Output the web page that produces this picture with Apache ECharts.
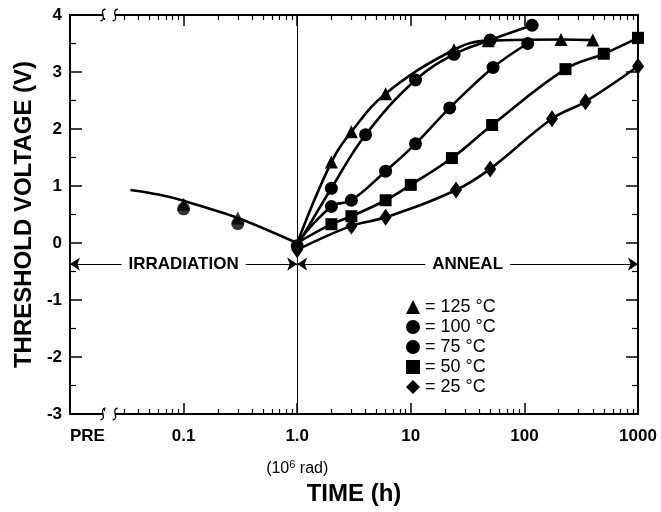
<!DOCTYPE html>
<html><head><meta charset="utf-8">
<script src="https://cdn.jsdelivr.net/npm/echarts@6/dist/echarts.min.js"></script>
<style>html,body{margin:0;padding:0;background:#fff}#c{width:661px;height:512px}</style>
</head><body><div id="c"></div>
<script>
// ---- data ----
const xTickLabels = {'0.01':'PRE','0.1':'0.1','1':'1.0','10':'10','100':'100','1000':'1000'};
const legendNames = ['= 125 °C','= 100 °C','= 75 °C','= 50 °C','= 25 °C'];
const legendIcons = ['triangle','circle','circle','rect','diamond'];

const t125 = [1, 2, 3, 6, 24, 48, 210, 400];
const v125 = [0.0, 1.42, 1.95, 2.62, 3.39, 3.55, 3.57, 3.56];
const t100 = [1, 2, 4, 11, 24, 50, 117];
const v100 = [-0.05, 0.96, 1.9, 2.86, 3.31, 3.56, 3.82];
const t75 = [1, 2, 3, 6, 11, 22, 53, 107];
const v75 = [0.0, 0.64, 0.75, 1.26, 1.74, 2.37, 3.08, 3.5];
const t50 = [1, 2, 3, 6, 10, 23, 52, 230, 500, 1000];
const v50 = [0.0, 0.33, 0.47, 0.75, 1.02, 1.49, 2.07, 3.05, 3.32, 3.6];
const t25 = [1, 3, 6, 25, 50, 175, 345, 1000];
const v25 = [-0.12, 0.3, 0.45, 0.93, 1.3, 2.18, 2.48, 3.1];

// irradiation phase
const tIrrTri = [0.1, 0.3];
const vIrrTri = [0.68, 0.44];
const tIrrCirc = [0.1, 0.3];
const vIrrCirc = [0.6, 0.34];
const tIrrFit = [0.034, 0.06, 0.1, 0.3, 1];
const vIrrFit = [0.93, 0.85, 0.74, 0.44, 0.0];

const arrowY = -0.37;
const breakAt = [0.0195, 0.025];

const FONT = 'Liberation Sans, Arial, Helvetica, sans-serif';
const chart = echarts.init(document.getElementById('c'), null, {renderer:'canvas'});

function pairs(ts, vs){ return ts.map((t,i)=>[t, vs[i]]); }
function mk(name, ts, vs, symbol, size, showFirst){
  return {
    name, type:'line', smooth:0.4, symbol, symbolSize:size, showAllSymbol:true,
    lineStyle:{color:'#000', width:2.6}, itemStyle:{color:'#000'},
    emphasis:{disabled:true}, z:3,
    data: ts.map((t,i)=> (i===0 && !showFirst) ? {value:[t, vs[i]], symbol:'none'} : [t, vs[i]])
  };
}
const syms = [[t125,v125,13,false],[t100,v100,13,true],[t75,v75,13,false],[t50,v50,12,false],[t25,v25,[12,17],true]];
const series = syms.map((s,i)=> mk(legendNames[i], s[0], s[1], legendIcons[i], s[2], s[3]));

series[0].markLine = {
  silent:true, symbol:'none', label:{show:false},
  lineStyle:{color:'#000', width:1, type:'solid'},
  data:[{xAxis:1}]
};

series.push({
  name:'irrFit', type:'line', smooth:0.3, symbol:'none',
  lineStyle:{color:'#000', width:2.6}, z:2,
  data: pairs(tIrrFit, vIrrFit),
  markLine:{
    silent:true, symbol:['arrow','arrow'], symbolSize:10,
    lineStyle:{color:'#000', width:1.2, type:'solid'},
    label:{show:true, position:'insideMiddle', formatter:p=>p.name, color:'#000',
      fontFamily:FONT, fontWeight:'bold', fontSize:17, backgroundColor:'#fff', padding:[2,7]},
    data:[
      [{name:'IRRADIATION', coord:[0.01, arrowY]}, {coord:[1, arrowY]}],
      [{name:'ANNEAL', coord:[1, arrowY]}, {coord:[1000, arrowY]}]
    ]
  }
});
series.push({name:'irrTri', type:'scatter', symbol:'triangle', symbolSize:13, itemStyle:{color:'#000'}, z:4, data:pairs(tIrrTri, vIrrTri)});
series.push({name:'irrCirc', type:'scatter', symbol:'circle', symbolSize:13, itemStyle:{color:'#000'}, z:4, data:pairs(tIrrCirc, vIrrCirc)});

const axLine = {show:true, onZero:false, lineStyle:{color:'#000', width:2}};
const option = {
  backgroundColor:'#fff',
  animation:false,
  grid:{left:70, right:23, top:15, bottom:98, outerBoundsMode:'none', containLabel:false},
  legend:{
    orient:'vertical', left:401, top:292, itemWidth:14, itemHeight:14, itemGap:0,
    textStyle:{color:'#000', fontSize:18, lineHeight:20, fontFamily:FONT},
    selectedMode:false,
    data: legendNames.map((n,i)=>({name:n, icon:legendIcons[i]}))
  },
  xAxis:[{
    type:'log', logBase:10, min:0.01, max:1000, position:'bottom',
    name:'TIME (h)', nameLocation:'middle', nameGap:66,
    nameTextStyle:{color:'#000', fontSize:24, fontWeight:'bold', fontFamily:FONT},
    axisLine:axLine,
    axisTick:{show:true, inside:true, length:11, lineStyle:{color:'#000', width:1.5}},
    minorTick:{show:true, splitNumber:9, length:5, lineStyle:{color:'#000', width:1.2}},
    splitLine:{show:false}, minorSplitLine:{show:false},
    axisLabel:{
      color:'#000', fontSize:17, fontWeight:'bold', fontFamily:FONT, margin:14,
      alignMinLabel:'left',
      formatter:v=>{
        const k = String(+v.toPrecision(3));
        if (k==='1') return '1.0\n{s|(10}{sup|6}{s| rad)}';
        return xTickLabels[k] !== undefined ? xTickLabels[k] : '';
      },
      rich:{
        s:{fontSize:16, fontWeight:'normal', color:'#000', fontFamily:FONT, lineHeight:32, verticalAlign:'bottom'},
        sup:{fontSize:11, fontWeight:'normal', color:'#000', fontFamily:FONT, lineHeight:32, verticalAlign:'bottom', padding:[0,0,7,0]}
      }
    }
  },{
    type:'log', logBase:10, min:0.01, max:1000, position:'top',
    axisLine:axLine,
    axisTick:{show:true, inside:true, length:11, lineStyle:{color:'#000', width:1.5}},
    minorTick:{show:true, splitNumber:9, length:5, lineStyle:{color:'#000', width:1.2}},
    axisLabel:{show:false}, splitLine:{show:false}
  }],
  yAxis:[{
    type:'value', min:-3, max:4, interval:1, position:'left',
    name:'THRESHOLD VOLTAGE (V)', nameLocation:'middle', nameGap:31, nameRotate:90,
    nameTextStyle:{color:'#000', fontSize:24, fontWeight:'bold', fontFamily:FONT},
    axisLine:axLine,
    axisTick:{show:true, inside:true, length:12, lineStyle:{color:'#000', width:1.5}},
    minorTick:{show:true, splitNumber:2, length:6, lineStyle:{color:'#000', width:1.2}},
    splitLine:{show:false},
    axisLabel:{color:'#000', fontSize:17, fontWeight:'bold', fontFamily:FONT, margin:8}
  },{
    type:'value', min:-3, max:4, interval:1, position:'right',
    axisLine:axLine,
    axisTick:{show:true, inside:true, length:12, lineStyle:{color:'#000', width:1.5}},
    minorTick:{show:true, splitNumber:2, length:6, lineStyle:{color:'#000', width:1.2}},
    splitLine:{show:false}, axisLabel:{show:false}
  }],
  series
};
chart.setOption(option);

// axis-break decoration on top and bottom axis lines
const xa = chart.convertToPixel({xAxisIndex:0}, breakAt[0]);
const xb = chart.convertToPixel({xAxisIndex:0}, breakAt[1]);
const yTop = chart.convertToPixel({yAxisIndex:0}, 4);
const yBot = chart.convertToPixel({yAxisIndex:0}, -3);
const g = [];
[yTop, yBot].forEach(y=>{
  g.push({type:'rect', shape:{x:xa, y:y-3, width:xb-xa, height:6}, style:{fill:'#fff'}, z:100});
  [xa, xb].forEach(x=>{
    g.push({type:'bezierCurve', shape:{x1:x+2.5, y1:y-6, cpx1:x-5, cpy1:y-4, cpx2:x+5, cpy2:y+4, x2:x-2.5, y2:y+6},
      style:{stroke:'#000', lineWidth:1.3, fill:null}, z:101});
  });
});
chart.setOption({graphic:g});
</script></body></html>
